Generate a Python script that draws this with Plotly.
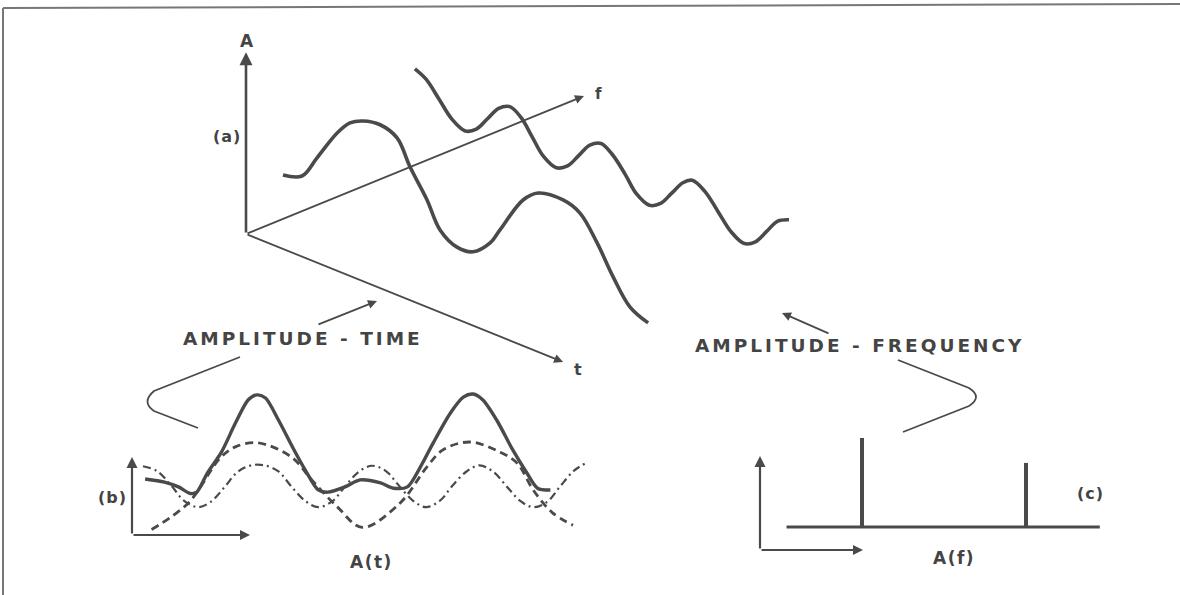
import plotly.graph_objects as go

W, H = 1180, 595
INK = "#4a4a4a"
TEXT = "#444444"
FONT = "DejaVu Sans"

# ---------------- (a) amplitude against time and frequency ----------------
# time in periods of the slow component, amplitude in units of its crest
a_slow_t = [-0.555, -0.453, -0.372, -0.264, -0.195, -0.125, -0.033, 0.058, 0.128,
            0.219, 0.289, 0.380, 0.466, 0.558, 0.611, 0.735, 0.816, 0.950, 1.041,
            1.133, 1.219, 1.310, 1.407]
a_slow_amp = [-0.89, -0.74, -0.20, 0.53, 0.87, 1.03, 1.10, 0.96, 0.43,
              -0.15, -0.70, -0.93, -0.89, -0.54, -0.16, 0.71, 1.00, 1.07, 0.93,
              0.42, -0.19, -0.71, -0.90]
a_fast_t = [-0.50, -0.44, -0.37, -0.30, -0.23, -0.17, -0.11, -0.05, 0.01,
            0.07, 0.13, 0.19, 0.26, 0.32, 0.38, 0.44, 0.50, 0.56, 0.63, 0.69,
            0.76, 0.82, 0.88, 0.94, 0.99, 1.06, 1.13, 1.20, 1.27, 1.33, 1.39,
            1.45, 1.51]
a_fast_amp = [0.46, 0.33, 0.00, -0.33, -0.47, -0.33, 0.00, 0.33, 0.47,
              0.33, 0.00, -0.33, -0.47, -0.33, 0.00, 0.33, 0.47, 0.33, 0.00, -0.33,
              -0.47, -0.33, 0.00, 0.33, 0.47, 0.33, 0.00, -0.33, -0.47, -0.33, 0.00,
              0.33, 0.46]
# where each component sits along the frequency axis (fraction of its length)
a_depth = [0.415, 0.775]
# extent of the three drawn axes: amplitude, time (periods), frequency (fraction)
a_axis_len = {"A": 4.04, "t": 1.704, "f": 1.0}

# ---------------- (b) the time signal and its two components ----------------
b_slow_t = [-0.99, -0.65, -0.35, -0.21, 0.0, 0.31, 0.50, 0.74, 0.97,
            1.32, 1.57, 1.72, 1.97, 2.25, 2.41, 2.56, 2.74, 2.93]
b_slow_amp = [-0.99, -0.39, 0.64, 0.89, 0.98, 0.66, 0.14, -0.48, -0.94,
              -0.39, 0.43, 0.82, 1.00, 0.77, 0.52, -0.09, -0.61, -0.89]
b_fast_t = [-1.07, -0.94, -0.81, -0.69, -0.56, -0.44, -0.31, -0.19, -0.06,
            0.06, 0.19, 0.31, 0.44, 0.56, 0.69, 0.81, 0.94,
            1.06, 1.19, 1.31, 1.44, 1.56, 1.69, 1.81, 1.94,
            2.06, 2.19, 2.31, 2.44, 2.56, 2.69, 2.81, 2.94, 3.05]
b_fast_amp = [0.45, 0.34, 0.02, -0.33, -0.48, -0.36, -0.02, 0.32, 0.47,
              0.47, 0.33, -0.01, -0.34, -0.48, -0.35, -0.01, 0.33,
              0.46, 0.34, 0.01, -0.33, -0.48, -0.34, 0.01, 0.33,
              0.47, 0.32, 0.00, -0.34, -0.48, -0.36, -0.01, 0.35, 0.52]
b_sum_t = [-1.05, -0.87, -0.74, -0.63, -0.57, -0.47, -0.34, -0.21, -0.09, -0.01,
           0.07, 0.19, 0.32, 0.44, 0.56, 0.65, 0.81, 0.95, 1.14, 1.26, 1.39,
           1.51, 1.63, 1.79, 1.91, 2.00, 2.09, 2.22, 2.37, 2.50, 2.60, 2.72]
b_sum_amp = [0.16, 0.09, -0.02, -0.17, -0.14, 0.30, 0.77, 1.43, 1.96, 2.07,
             2.00, 1.50, 0.89, 0.36, -0.09, -0.14, -0.02, 0.14, 0.07, -0.05, -0.02,
             0.43, 0.98, 1.66, 2.02, 2.09, 1.96, 1.50, 0.82, 0.30, -0.05, -0.09]

# ---------------- (c) the line spectrum ----------------
c_freq = [1.0, 2.0]
c_amp = [1.0, 0.72]
c_base = [0.54, 2.45]

# ---------------- geometry ----------------
ORIGIN = (246.0, 234.0)          # corner of the oblique axes in (a)
T_STEP = (186.1, 75.1)           # one period along t
F_STEP = (338.0, -138.0)         # full length of the f axis
A_STEP = 45.0                    # one amplitude unit, upwards


def oblique(t_vals, depth, amp_vals):
    xs = [ORIGIN[0] + t * T_STEP[0] + depth * F_STEP[0] for t in t_vals]
    ys = [ORIGIN[1] + t * T_STEP[1] + depth * F_STEP[1] - a * A_STEP
          for t, a in zip(t_vals, amp_vals)]
    return xs, ys


def oblique_point(t, depth, amp):
    xs, ys = oblique([t], depth, [amp])
    return xs[0], ys[0]


def axis_range(zero_px, unit_px, size, flip=False):
    """Data range for an overlay axis spanning the whole figure."""
    if flip:  # pixel rows grow downwards, values grow upwards
        return [-(size - zero_px) / unit_px, zero_px / unit_px]
    return [-zero_px / unit_px, (size - zero_px) / unit_px]


fig = go.Figure()

# (a) curves
for t_vals, amp_vals, depth in ((a_slow_t, a_slow_amp, a_depth[0]),
                                (a_fast_t, a_fast_amp, a_depth[1])):
    xs, ys = oblique(t_vals, depth, amp_vals)
    fig.add_trace(go.Scatter(x=xs, y=ys, mode="lines",
                             line=dict(color=INK, width=3.6, shape="spline", smoothing=1.0),
                             hoverinfo="skip", showlegend=False))

# (b) components and their sum
fig.add_trace(go.Scatter(x=b_slow_t, y=b_slow_amp, xaxis="x2", yaxis="y2", mode="lines",
                         line=dict(color=INK, width=2.8, dash="8px,5px", shape="spline"),
                         hoverinfo="skip", showlegend=False))
fig.add_trace(go.Scatter(x=b_fast_t, y=b_fast_amp, xaxis="x2", yaxis="y2", mode="lines",
                         line=dict(color=INK, width=2.2, dash="8px,4px,2px,4px",
                                   shape="spline"),
                         hoverinfo="skip", showlegend=False))
fig.add_trace(go.Scatter(x=b_sum_t, y=b_sum_amp, xaxis="x2", yaxis="y2", mode="lines",
                         line=dict(color=INK, width=3.4, shape="spline", smoothing=0.8),
                         hoverinfo="skip", showlegend=False))

# (c) spectrum lines
spike_x, spike_y = [], []
for f, a in zip(c_freq, c_amp):
    spike_x += [f, f, None]
    spike_y += [0, a, None]
fig.add_trace(go.Scatter(x=c_base, y=[0, 0], xaxis="x3", yaxis="y3", mode="lines",
                         line=dict(color=INK, width=3), hoverinfo="skip", showlegend=False))
fig.add_trace(go.Scatter(x=spike_x, y=spike_y, xaxis="x3", yaxis="y3", mode="lines",
                         line=dict(color=INK, width=4), hoverinfo="skip", showlegend=False))

annotations = []


def arrow(tail, tip, width=2.0, color=INK, size=1.0):
    annotations.append(dict(x=tip[0], y=tip[1], ax=tail[0], ay=tail[1],
                            xref="x", yref="y", axref="x", ayref="y", text="",
                            showarrow=True, arrowhead=2, arrowsize=size,
                            arrowwidth=width, arrowcolor=color, standoff=0))


def label(x, y, text, size=16, spacing=0):
    body = text if not spacing else f'<span style="letter-spacing:{spacing}px">{text}</span>'
    annotations.append(dict(x=x, y=y, xref="x", yref="y", text=body, showarrow=False,
                            font=dict(family=FONT, size=size, color=TEXT, weight="bold"),
                            xanchor="center", yanchor="middle"))


# oblique axes of (a)
arrow(ORIGIN, oblique_point(0, 0, a_axis_len["A"]), width=2.6)
arrow(ORIGIN, oblique_point(a_axis_len["t"], 0, 0), width=1.8)
arrow(ORIGIN, oblique_point(0, a_axis_len["f"], 0), width=1.8)

# small L-shaped axes of (b) and (c)
arrow((132, 535), (132, 457), width=2.2)
arrow((132, 535), (250, 535), width=2.0)
arrow((760, 550), (760, 456), width=2.2)
arrow((760, 550), (863, 550), width=2.0)

# pointers from the captions
arrow((317, 325), (377, 301), width=1.8)
arrow((830, 334), (782, 313), width=1.8)

label(247, 41, "A", size=17)
label(227, 136, "(a)", size=16, spacing=1)
label(598, 94, "f", size=15)
label(578, 369, "t", size=16)
label(303, 338, "AMPLITUDE - TIME", size=18.5, spacing=3)
label(860, 345, "AMPLITUDE - FREQUENCY", size=18.5, spacing=3)
label(112, 497, "(b)", size=16, spacing=1)
label(371, 562, "A(t)", size=17, spacing=1.5)
label(1090, 493, "(c)", size=16, spacing=1)
label(954, 558, "A(f)", size=17, spacing=1.5)

shapes = [
    # page frame
    dict(type="line", xref="x", yref="y", x0=3, y0=8, x1=W, y1=4,
         line=dict(color="#777777", width=2)),
    dict(type="line", xref="x", yref="y", x0=3, y0=8, x1=3, y1=H,
         line=dict(color="#777777", width=2)),
    # braces joining captions to the small plots
    dict(type="path", xref="x", yref="y",
         path="M 240 357 L 154 391 Q 141 402 154 411 L 198 428",
         line=dict(color=INK, width=1.8)),
    dict(type="path", xref="x", yref="y",
         path="M 898 360 L 969 388 Q 983 397 969 406 L 903 432",
         line=dict(color=INK, width=1.8)),
]

hidden = dict(visible=False, showgrid=False, zeroline=False, fixedrange=True)
fig.update_layout(
    width=W, height=H,
    margin=dict(l=0, r=0, t=0, b=0),
    paper_bgcolor="white", plot_bgcolor="white",
    showlegend=False,
    xaxis=dict(range=[0, W], domain=[0, 1], **hidden),
    yaxis=dict(range=[H, 0], domain=[0, 1], **hidden),
    xaxis2=dict(range=axis_range(258, 107.5, W), overlaying="x", anchor="y2", **hidden),
    yaxis2=dict(range=axis_range(486, 44, H, flip=True), overlaying="y", anchor="x2", **hidden),
    xaxis3=dict(range=axis_range(698, 164, W), overlaying="x", anchor="y3", **hidden),
    yaxis3=dict(range=axis_range(527, 89, H, flip=True), overlaying="y", anchor="x3", **hidden),
    annotations=annotations,
    shapes=shapes,
)

fig.write_html("out.html")
